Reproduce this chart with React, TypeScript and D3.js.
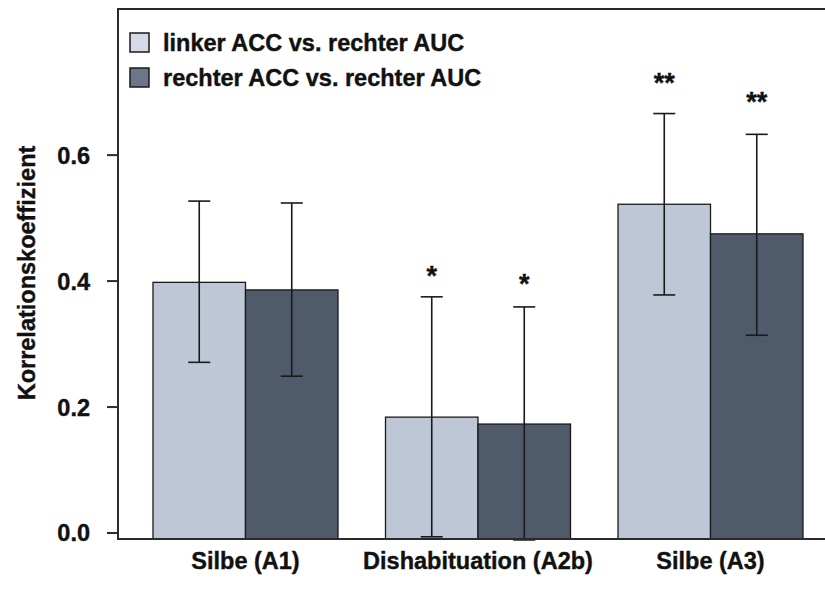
import React from "react";
import * as d3 from "d3";

const categories = ["Silbe (A1)", "Dishabituation (A2b)", "Silbe (A3)"];
const seriesNames = ["linker ACC vs. rechter AUC", "rechter ACC vs. rechter AUC"];
const meansLeft = [0.398, 0.184, 0.522];
const meansRight = [0.386, 0.173, 0.475];
const upperLeft = [0.527, 0.375, 0.666];
const lowerLeft = [0.271, -0.006, 0.378];
const upperRight = [0.524, 0.359, 0.633];
const lowerRight = [0.249, -0.011, 0.314];
const starsLeft = ["", "*", "**"];
const starsRight = ["", "*", "**"];
const starPosLeft = [0, 0.416, 0.722];
const starPosRight = [0, 0.403, 0.692];
const yTicks = [0, 0.2, 0.4, 0.6];

const barColors = ["#BEC7D6", "#4F5A6B"];
const legendColors = ["#D4DBE7", "#6D7687"];
const FONT = "'Liberation Sans', Arial, sans-serif";
const FS = 23.5;

export default function App() {
  const W = 825, H = 603;
  const left = 118, top = 9, bottom = 539;
  const y = d3.scaleLinear().domain([-0.0095, 0.832]).range([bottom, top]);
  const x0 = d3.scaleBand<string>().domain(categories).range([left, 838]).paddingInner(0.2043).paddingOuter(0.1505);
  const x1 = d3.scaleBand<string>().domain(seriesNames).range([0, x0.bandwidth()]).padding(0);
  const series = [
    { name: seriesNames[0], means: meansLeft, up: upperLeft, lo: lowerLeft, stars: starsLeft, sp: starPosLeft },
    { name: seriesNames[1], means: meansRight, up: upperRight, lo: lowerRight, stars: starsRight, sp: starPosRight },
  ];
  const cap = 11;
  const textProps = { fontWeight: "bold", fill: "#111", stroke: "#111", strokeWidth: 0.4 } as any;
  return (
    <svg width={W} height={H} style={{ position: "absolute", left: 0, top: 0, background: "#fff" }} fontFamily={FONT}>
      <rect x={0} y={0} width={W} height={H} fill="#fff" />
      {series.map((s, si) =>
        categories.map((c, ci) => {
          const bx = (x0(c) as number) + (x1(s.name) as number);
          const bw = x1.bandwidth();
          return (
            <rect key={si + "-" + ci} x={bx} y={y(s.means[ci])} width={bw} height={y(y.domain()[0]) - y(s.means[ci])}
              fill={barColors[si]} stroke="#1a1a1a" strokeWidth={1.3} />
          );
        })
      )}
      {series.map((s, si) =>
        categories.map((c, ci) => {
          const cx = (x0(c) as number) + (x1(s.name) as number) + x1.bandwidth() / 2;
          return (
            <g key={"e" + si + "-" + ci} stroke="#1a1a1a" strokeWidth={1.6}>
              <line x1={cx} x2={cx} y1={y(s.up[ci])} y2={y(s.lo[ci])} />
              <line x1={cx - cap} x2={cx + cap} y1={y(s.up[ci])} y2={y(s.up[ci])} />
              <line x1={cx - cap} x2={cx + cap} y1={y(s.lo[ci])} y2={y(s.lo[ci])} />
            </g>
          );
        })
      )}
      {series.map((s, si) =>
        categories.map((c, ci) => {
          const cx = (x0(c) as number) + (x1(s.name) as number) + x1.bandwidth() / 2;
          return s.stars[ci] ? (
            <text key={"s" + si + "-" + ci} x={cx} y={y(s.sp[ci])} dy="0.52em" textAnchor="middle" fontSize={27} {...textProps}>
              {s.stars[ci]}
            </text>
          ) : null;
        })
      )}
      <path d={`M${W + 5},${top} H${left} V${bottom} H${W + 5}`} fill="none" stroke="#2a2a2a" strokeWidth={2} />
      {yTicks.map((t) => (
        <g key={t}>
          <line x1={left - 11} x2={left} y1={y(t)} y2={y(t)} stroke="#2a2a2a" strokeWidth={2} />
          <text x={90} y={y(t)} dy="0.36em" textAnchor="end" fontSize={FS} {...textProps}>
            {d3.format(".1f")(t)}
          </text>
        </g>
      ))}
      {categories.map((c) => (
        <text key={c} x={(x0(c) as number) + x0.bandwidth() / 2} y={569} textAnchor="middle" fontSize={FS} {...textProps}>
          {c}
        </text>
      ))}
      <text transform={`translate(35,273) rotate(-90)`} textAnchor="middle" fontSize={FS} {...textProps}>
        Korrelationskoeffizient
      </text>
      {seriesNames.map((n, i) => (
        <g key={n}>
          <rect x={130} y={33 + i * 35} width={19} height={19} fill={legendColors[i]} stroke="#1a1a1a" strokeWidth={1.5} />
          <text x={163} y={51 + i * 35} fontSize={FS} {...textProps}>{n}</text>
        </g>
      ))}
    </svg>
  );
}
